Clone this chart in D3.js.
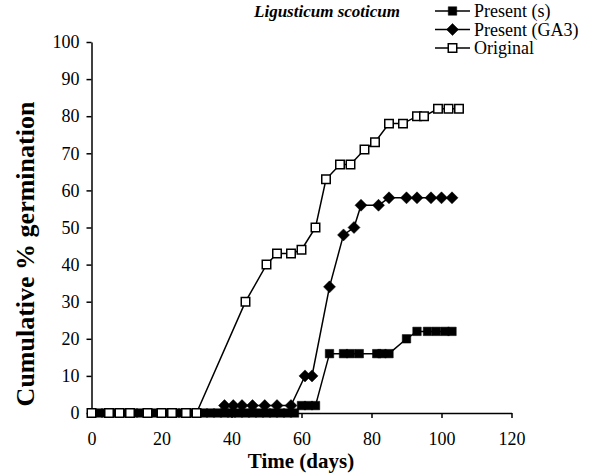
<!DOCTYPE html>
<html><head><meta charset="utf-8">
<script src="https://cdn.jsdelivr.net/npm/d3@7/dist/d3.min.js"></script>
<style>body{margin:0;background:#fff;} svg{display:block;} text{font-family:'Liberation Serif','Times New Roman',serif;}</style>
</head><body>
<svg id="c" width="600" height="476"></svg>
<script>
const title = "Ligusticum scoticum";
const xTicks = [0,20,40,60,80,100,120];
const yTicks = [0,10,20,30,40,50,60,70,80,90,100];
const seriesNames = ["Present (s)","Present (GA3)","Original"];

const presentSDays = [2,4,6,8,10,12,14,16,18,20,22,24,26,28,30,32,34,36,38,40,42,44,46,48,50,52,54,56,58,60,62,64,68,72,74,76.5,81.5,83,85,90,93,96,98.5,101,103];
const presentSVals = [0,0,0,0,0,0,0,0,0,0,0,0,0,0,0,0,0,0,0,0,0,0,0,0,0,0,0,0,0,2,2,2,16,16,16,16,16,16,16,20,22,22,22,22,22];

const ga3Days = [38,40.5,43,46,49.5,53,57,61,63,68,72,75,77,82,85,90,93,97,100,103];
const ga3Vals = [2,2,2,2,2,2,2,10,10,34,48,50,56,56,58,58,58,58,58,58];

const origDays = [0,5,8,11,16,20,23,27,30,44,50,53,57,60,64,67,71,74,78,81,85,89,93,95,99,102,105];
const origVals = [0,0,0,0,0,0,0,0,0,30,40,43,43,44,50,63,67,67,71,73,78,78,80,80,82,82,82];

const svg = d3.select("#c");
const x = d3.scaleLinear().domain([0,120]).range([91.5,511.5]);
const y = d3.scaleLinear().domain([0,100]).range([413,42]);
const serif = "'Liberation Serif','Times New Roman',serif";

const xAxis = svg.append("g").attr("transform","translate(0,413)")
  .call(d3.axisBottom(x).tickValues(xTicks).tickSize(5).tickSizeOuter(0).tickPadding(14));
const yAxis = svg.append("g").attr("transform","translate(91.5,0)")
  .call(d3.axisLeft(y).tickValues(yTicks).tickSize(5).tickSizeOuter(0).tickPadding(7));
[xAxis,yAxis].forEach(a=>{
  a.attr("font-family",serif).attr("font-size",18);
  a.selectAll("path,line").attr("stroke","#000").attr("stroke-width",1.5);
  a.selectAll("text").attr("font-family",serif).attr("font-size",18).attr("fill","#000");
});

svg.append("text").attr("x",327).attr("y",17).attr("text-anchor","middle")
  .attr("font-family",serif).attr("font-size",17).attr("font-weight","bold").attr("font-style","italic")
  .text(title);
svg.append("text").attr("x",301).attr("y",468).attr("text-anchor","middle")
  .attr("font-family",serif).attr("font-size",21).attr("font-weight","bold").text("Time (days)");
svg.append("text").attr("transform","translate(34,254) rotate(-90)").attr("text-anchor","middle")
  .attr("font-family",serif).attr("font-size",26).attr("font-weight","bold").text("Cumulative % germination");

const line = d3.line().x(d=>x(d[0])).y(d=>y(d[1]));
const sq = d3.symbol().type(d3.symbolSquare).size(72);
function diaPath(){ return "M0,-6L6,0L0,6L-6,0Z"; }

function drawSeries(days, vals, kind){
  const pts = days.map((d,i)=>[d,vals[i]]);
  svg.append("path").attr("d",line(pts)).attr("fill","none").attr("stroke","#000").attr("stroke-width",1.5);
  svg.append("g").selectAll("path").data(pts).join("path")
    .attr("transform",d=>`translate(${x(d[0])},${y(d[1])})`)
    .attr("d", kind==="dia" ? diaPath() : sq())
    .attr("fill", kind==="open" ? "#fff" : "#000")
    .attr("stroke","#000").attr("stroke-width", kind==="open"?1.5:0.5);
}

drawSeries(presentSDays, presentSVals, "fill");
drawSeries(ga3Days, ga3Vals, "dia");
drawSeries(origDays, origVals, "open");

// legend
const lg = svg.append("g");
const rows = [{n:seriesNames[0],k:"fill"},{n:seriesNames[1],k:"dia"},{n:seriesNames[2],k:"open"}];
rows.forEach((r,i)=>{
  const yy = 11 + i*18.5;
  lg.append("line").attr("x1",435).attr("x2",470).attr("y1",yy).attr("y2",yy).attr("stroke","#000").attr("stroke-width",1.5);
  lg.append("path").attr("transform",`translate(452.5,${yy})`)
    .attr("d", r.k==="dia"? diaPath() : sq())
    .attr("fill", r.k==="open"?"#fff":"#000").attr("stroke","#000").attr("stroke-width", r.k==="open"?1.5:0.5);
  lg.append("text").attr("x",474).attr("y",yy+6).attr("font-family",serif).attr("font-size",18).text(r.n);
});
</script>
</body></html>
